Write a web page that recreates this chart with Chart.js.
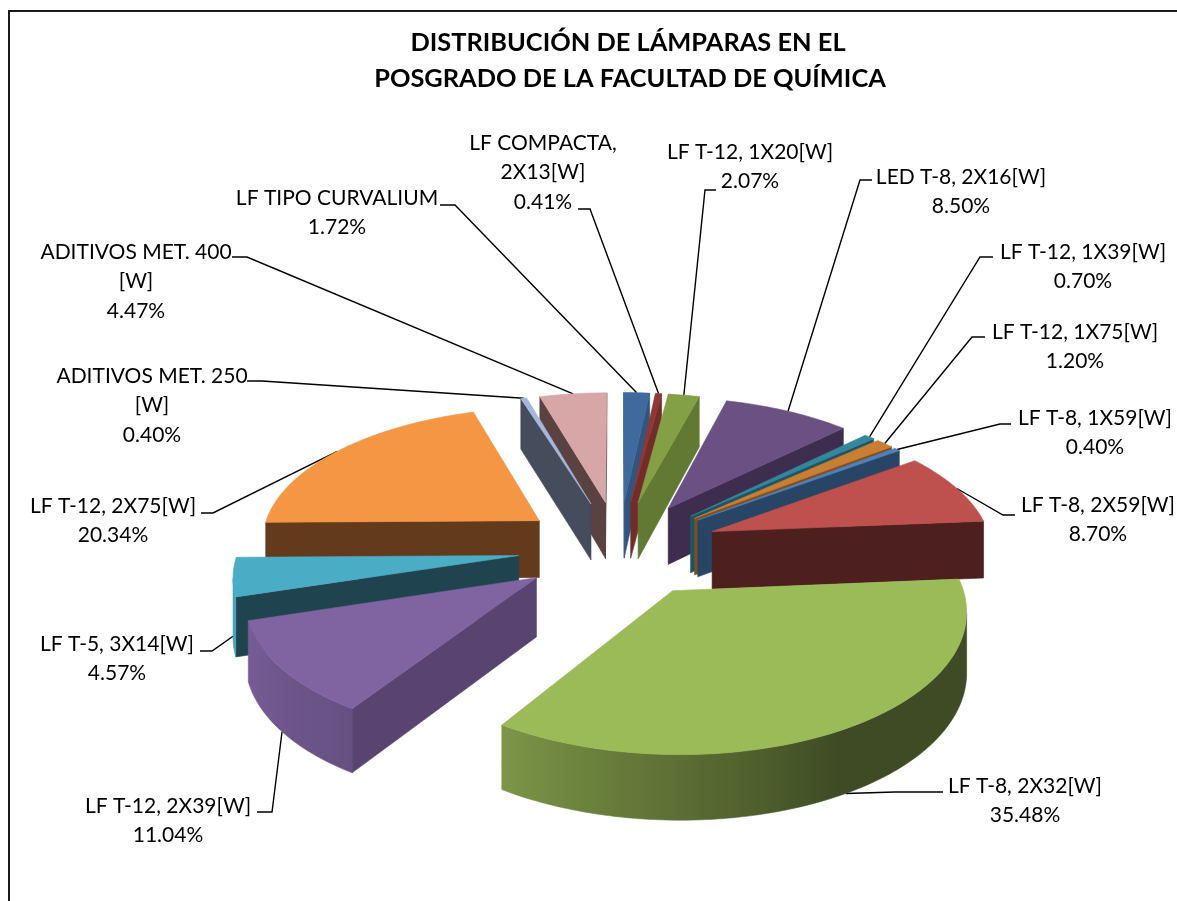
<!DOCTYPE html>
<html>
<head>
<meta charset="utf-8">
<title>Distribución de lámparas</title>
<script src="https://cdn.jsdelivr.net/npm/chart.js@4/dist/chart.umd.min.js"></script>
<style>
  html, body { margin: 0; padding: 0; background: #fff; overflow: hidden; }
  canvas { display: block; }
</style>
</head>
<body>
<canvas id="pie" width="1177" height="901"></canvas>
<script>
// values, clockwise from 12 o'clock
const categories = [
  'LF TIPO CURVALIUM', 'LF COMPACTA,\n2X13[W]', 'LF T-12, 1X20[W]', 'LED T-8, 2X16[W]',
  'LF T-12, 1X39[W]', 'LF T-12, 1X75[W]', 'LF T-8, 1X59[W]', 'LF T-8, 2X59[W]',
  'LF T-8, 2X32[W]', 'LF T-12, 2X39[W]', 'LF T-5, 3X14[W]', 'LF T-12, 2X75[W]',
  'ADITIVOS MET. 250\n[W]', 'ADITIVOS MET. 400\n[W]'
];
const shares = [1.72, 0.41, 2.07, 8.50, 0.70, 1.20, 0.40, 8.70, 35.48, 11.04, 4.57, 20.34, 0.40, 4.47];
const titleLines = ['DISTRIBUCIÓN DE LÁMPARAS EN EL', 'POSGRADO DE LA FACULTAD DE QUÍMICA'];

const topColors = ['#3E6A9E', '#8E3836', '#84A044', '#6A5083', '#33879F', '#C97E33', '#4F81BD',
  '#BE504E', '#9BBB59', '#8064A2', '#4BACC6', '#F49644', '#A5B8DC', '#D7A6A6'];
const wallColors = ['#32557F', '#722D2B', '#627933', '#3F2D50', '#1F5563', '#7E4F20', '#294565',
  '#4D1F1F', '#3F4A22', '#584371', '#1F444F', '#633A1B', '#454C5B', '#594240'];

// label placement: centre x, first line centre y, then the leader's start and elbow
const labelBoxes = [
  [337, 198, 440, 205, 455, 205], [543, 143, 578, 209, 590, 209], [750, 152, 716, 190, 705, 190],
  [961, 177, 872, 180, 860, 180], [1083, 252, 993, 257, 980, 257], [1075, 332, 985, 337, 972, 337],
  [1095, 418, 1011, 424, 1000, 424], [1098, 505, 1015, 515, 1003, 515], [1025, 786, 943, 792, 895, 792],
  [168, 806, 257, 812, 272, 812], [117, 644, 200, 651, 212, 651], [113, 506, 201, 513, 213, 513],
  [152, 376, 247, 381, 262, 381], [136, 252, 232, 257, 247, 257]
];

const EXPLODE = 0.36, TILT = 0.475, PERSP = 0.12, DEPTH = 58;
const FONT = 'Lato, "Open Sans", sans-serif';

function shadeFor(deg) {
  // side of the pie gets lighter going round from front right to the left
  if (deg < 150) return 0.4;
  if (deg < 213) return 0.4 + (deg - 150) / 63 * 0.4;
  if (deg < 253) return 0.8 + (deg - 213) / 40 * 0.13;
  return 0.95;
}

function scaled(hex, f) {
  const n = parseInt(hex.slice(1), 16);
  return 'rgb(' + Math.round((n >> 16) * f) + ',' + Math.round(((n >> 8) & 255) * f) + ',' + Math.round((n & 255) * f) + ')';
}

function poly(ctx, pts, color) {
  ctx.beginPath();
  pts.forEach((p, i) => i ? ctx.lineTo(p.x, p.y) : ctx.moveTo(p.x, p.y));
  ctx.closePath();
  ctx.fillStyle = color;
  ctx.strokeStyle = color;
  ctx.lineWidth = 0.6;
  ctx.fill();
  ctx.stroke();
}

// one shape for the whole visible rim, shaded left to right, so no seams show
function rimWall(ctx, run, base) {
  const left = run[run.length - 1].x, right = run[0].x;
  const grad = ctx.createLinearGradient(left, 0, right, 0);
  run.forEach(p => grad.addColorStop(Math.min(1, Math.max(0, (p.x - left) / (right - left))), scaled(base, shadeFor(p.deg))));
  const lower = run.slice().reverse().map(p => ({ x: p.x, y: p.y + p.drop }));
  poly(ctx, run.concat(lower), grad);
}

const pie3d = {
  id: 'pie3d',
  beforeDraw(chart) {
    const ctx = chart.ctx;
    ctx.save();
    ctx.fillStyle = '#fff';
    ctx.fillRect(0, 0, chart.width, chart.height);
    ctx.strokeStyle = '#1a1a1a';
    ctx.lineWidth = 2;
    ctx.beginPath();
    ctx.moveTo(9, chart.height);
    ctx.lineTo(9, 11);
    ctx.lineTo(chart.width, 11);
    ctx.stroke();
    ctx.restore();
  },
  // the arcs are painted here so they can get thickness and perspective
  beforeDatasetsDraw(chart) {
    const ctx = chart.ctx;
    const arcs = chart.getDatasetMeta(0).data;

    function project(arc, wx, wz) {
      const s = 1 / (1 - PERSP * wz);
      return {
        x: arc.x + arc.outerRadius * wx * s,
        y: arc.y + arc.outerRadius * TILT * wz * s,
        drop: DEPTH * (1 + 0.1 * wz)
      };
    }

    const slices = arcs.map((arc, i) => {
      const a0 = arc.startAngle + Math.PI / 2;
      const a1 = arc.endAngle + Math.PI / 2;
      const mid = (a0 + a1) / 2;
      const ax = EXPLODE * Math.sin(mid);
      const az = -EXPLODE * Math.cos(mid);
      const pts = [project(arc, ax, az)];
      const steps = Math.max(2, Math.ceil((a1 - a0) / 0.02));
      for (let k = 0; k <= steps; k++) {
        const a = a0 + (a1 - a0) * k / steps;
        const p = project(arc, ax + Math.sin(a), az - Math.cos(a));
        p.deg = a * 180 / Math.PI;
        pts.push(p);
      }
      return { i, pts, mid, depth: az - Math.cos(mid),
        rim: project(arc, ax + Math.sin(mid), az - Math.cos(mid)) };
    });

    // leaders sit behind the slices
    ctx.save();
    ctx.strokeStyle = '#000';
    ctx.lineWidth = 1.4;
    slices.forEach(s => {
      const b = labelBoxes[s.i];
      const front = s.depth > 0.12;
      ctx.beginPath();
      ctx.moveTo(b[2], b[3]);
      ctx.lineTo(b[4], b[5]);
      ctx.lineTo(s.rim.x, s.rim.y + (front ? s.rim.drop : 0));
      ctx.stroke();
    });

    // back to front
    slices.slice().sort((a, b) => a.depth - b.depth).forEach(s => {
      const n = s.pts.length;
      const apex = s.pts[0], first = s.pts[1], last = s.pts[n - 1];
      // cut faces first, only those that look towards the viewer
      [[apex, first], [last, apex]].forEach(([p, q]) => {
        if (q.x - p.x < 0) {
          poly(ctx, [p, q, { x: q.x, y: q.y + q.drop }, { x: p.x, y: p.y + p.drop }], wallColors[s.i]);
        }
      });
      const run = [];
      for (let k = 1; k < n - 1; k++) {
        if (s.pts[k + 1].x - s.pts[k].x < 0) {
          if (!run.length) run.push(s.pts[k]);
          run.push(s.pts[k + 1]);
        }
      }
      if (run.length > 1) rimWall(ctx, run, topColors[s.i]);
      poly(ctx, s.pts, topColors[s.i]);
    });
    ctx.restore();
    return false;
  },
  afterDraw(chart) {
    const ctx = chart.ctx;
    ctx.save();
    ctx.textAlign = 'center';
    ctx.textBaseline = 'middle';
    ctx.fillStyle = '#000';
    ctx.font = 'bold 25.4px ' + FONT;
    ctx.fillText(titleLines[0], 628, 43);
    ctx.fillText(titleLines[1], 630, 79);
    ctx.font = '21px ' + FONT;
    categories.forEach((name, i) => {
      const lines = name.split('\n').concat(shares[i].toFixed(2) + '%');
      lines.forEach((line, j) => ctx.fillText(line, labelBoxes[i][0], labelBoxes[i][1] + j * 29.5));
    });
    ctx.restore();
  }
};

new Chart(document.getElementById('pie'), {
  type: 'pie',
  data: {
    labels: categories.map(c => c.replace('\n', ' ')),
    datasets: [{ data: shares, backgroundColor: topColors, borderWidth: 0 }]
  },
  options: {
    responsive: false,
    animation: false,
    layout: { padding: { left: 339, right: 278, top: 268, bottom: 73 } },
    plugins: { legend: { display: false }, title: { display: false }, tooltip: { enabled: false } }
  },
  plugins: [pie3d]
});
</script>
</body>
</html>
